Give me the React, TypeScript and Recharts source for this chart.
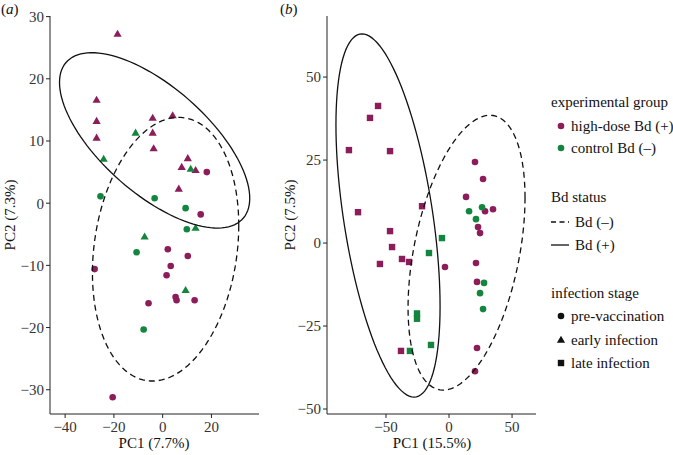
import { ScatterChart, Scatter, XAxis, YAxis } from "recharts";

const FONT = "Liberation Serif, Times New Roman, DejaVu Serif, serif";
const PURPLE = "#8c1d5a";
const GREEN = "#14853f";
const INK = "#222";

// panel (a): pre-vaccination (circles) vs early infection (triangles)
const aHighEarly = [
  { x: -18.5, y: 27.2 }, { x: -27.1, y: 16.6 }, { x: -27.1, y: 13.2 }, { x: -27.1, y: 10.5 },
  { x: -4.1, y: 13.7 }, { x: -4.1, y: 11.3 }, { x: -3.7, y: 8.8 }, { x: 4.1, y: 14.1 },
  { x: 10.3, y: 7.2 }, { x: 7.8, y: 5.8 }, { x: 13.5, y: 5.3 }, { x: 6.6, y: 2.3 },
];
const aControlEarly = [
  { x: -11.1, y: 11.3 }, { x: -24.2, y: 7.1 }, { x: 11.5, y: 5.5 },
  { x: 13.5, y: -4.0 }, { x: -7.4, y: -5.4 }, { x: 9.4, y: -14.0 },
];
const aHighPre = [
  { x: 18.1, y: 5.0 }, { x: 15.6, y: -1.8 }, { x: 2.1, y: -7.4 }, { x: 10.3, y: -8.5 },
  { x: 3.3, y: -10.1 }, { x: 1.6, y: -11.6 }, { x: 5.3, y: -15.1 }, { x: 5.7, y: -15.6 },
  { x: 13.1, y: -15.6 }, { x: -5.8, y: -16.1 }, { x: -27.9, y: -10.6 }, { x: -20.5, y: -31.2 },
];
const aControlPre = [
  { x: -25.5, y: 1.1 }, { x: -3.3, y: 0.8 }, { x: 9.4, y: -0.8 },
  { x: 9.9, y: -4.2 }, { x: -10.7, y: -7.9 }, { x: -7.8, y: -20.3 },
];

// panel (b): pre-vaccination (circles) vs late infection (squares)
const bHighLate = [
  { x: -56.3, y: 41.3 }, { x: -62.7, y: 37.7 }, { x: -79.4, y: 28.0 }, { x: -46.8, y: 27.7 },
  { x: -72.2, y: 9.3 }, { x: -21.4, y: 11.1 }, { x: -46.8, y: 3.6 }, { x: -45.2, y: -1.2 },
  { x: -54.8, y: -6.3 }, { x: -37.3, y: -4.8 }, { x: -31.7, y: -5.7 }, { x: -38.1, y: -32.5 },
];
const bControlLate = [
  { x: -5.6, y: 1.5 }, { x: -15.9, y: -3.0 }, { x: -25.4, y: -21.2 },
  { x: -25.4, y: -22.8 }, { x: -31.0, y: -32.5 }, { x: -14.3, y: -30.7 },
];
const bHighPre = [
  { x: 20.6, y: 24.4 }, { x: 27.0, y: 19.3 }, { x: 13.5, y: 13.9 }, { x: 28.6, y: 9.6 },
  { x: 34.9, y: 10.2 }, { x: 23.0, y: 4.8 }, { x: 24.6, y: 3.0 }, { x: -3.2, y: -7.2 },
  { x: 21.4, y: -6.0 }, { x: 22.2, y: -11.7 }, { x: 22.2, y: -31.6 }, { x: 20.6, y: -38.6 },
];
const bControlPre = [
  { x: 26.2, y: 10.8 }, { x: 15.9, y: 9.6 }, { x: 21.4, y: 7.2 },
  { x: 27.8, y: -12.0 }, { x: 24.6, y: -15.1 }, { x: 27.0, y: -19.9 },
];

// ellipse parameters: centre, half-width, half-height, correlation
const aEllipseNeg = { cx: 1.2, cy: -7.4, a: 30, b: 21.2, rho: 0.18 };
const aEllipsePos = { cx: -3.3, cy: 10.1, a: 39, b: 14.1, rho: -0.66 };
const bEllipseNeg = { cx: 13.9, cy: -2.9, a: 46.4, b: 41.4, rho: 0.4 };
const bEllipsePos = { cx: -48.4, cy: 8.3, a: 41.3, b: 54.7, rho: -0.5 };

const aXTicks = [-40, -20, 0, 20];
const aYTicks = [-30, -20, -10, 0, 10, 20, 30];
const bXTicks = [-50, 0, 50];
const bYTicks = [-50, -25, 0, 25, 50];

function outline(e: { cx: number; cy: number; a: number; b: number; rho: number }) {
  const phi = Math.acos(e.rho);
  const pts = [];
  for (let i = 0; i <= 120; i++) {
    const t = (i / 120) * Math.PI * 2;
    pts.push({ x: e.cx + e.a * Math.cos(t), y: e.cy + e.b * Math.cos(t - phi) });
  }
  return pts;
}

const fmt = (v: number) => String(v).replace("-", "\u2212");

const dot = (color: string) => (p: any) => <circle cx={p.cx} cy={p.cy} r={3.3} fill={color} />;
const tri = (color: string) => (p: any) => (
  <polygon
    points={`${p.cx},${p.cy - 4.3} ${p.cx - 4.1},${p.cy + 2.8} ${p.cx + 4.1},${p.cy + 2.8}`}
    fill={color}
  />
);
const sq = (color: string) => (p: any) => (
  <rect x={p.cx - 3.2} y={p.cy - 3.2} width={6.4} height={6.4} fill={color} />
);
const none = () => <g />;

const tickStyle = { fontFamily: FONT, fontSize: 15, fill: "#333" };

function Panel(props: {
  left: number;
  xDomain: number[];
  yDomain: number[];
  xTicks: number[];
  yTicks: number[];
  children: any;
}) {
  return (
    <div style={{ position: "absolute", left: props.left, top: 0, fontFamily: FONT }}>
      <ScatterChart width={270} height={455} margin={{ top: 16, right: 11, bottom: 11, left: 0 }}>
        <XAxis
          type="number"
          dataKey="x"
          domain={props.xDomain}
          ticks={props.xTicks}
          allowDataOverflow
          height={30}
          tickSize={4}
          tickMargin={3}
          tickFormatter={fmt}
          tick={tickStyle}
          stroke={INK}
        />
        <YAxis
          type="number"
          dataKey="y"
          domain={props.yDomain}
          ticks={props.yTicks}
          allowDataOverflow
          width={50}
          tickSize={4}
          tickMargin={2}
          tickFormatter={fmt}
          tick={tickStyle}
          stroke={INK}
        />
        {props.children}
      </ScatterChart>
    </div>
  );
}

const solid = { stroke: "#111", strokeWidth: 1.3, fill: "none" };
const dashed = { stroke: "#111", strokeWidth: 1.3, strokeDasharray: "6 4", fill: "none" };

export default function App() {
  return (
    <div
      style={{
        position: "absolute",
        left: 0,
        top: 0,
        width: 673,
        height: 455,
        background: "#fff",
        fontFamily: FONT,
      }}
    >
      <Panel left={0} xDomain={[-46.2, 39.5]} yDomain={[-33.9, 30.1]} xTicks={aXTicks} yTicks={aYTicks}>
        <Scatter data={aHighPre} shape={dot(PURPLE)} isAnimationActive={false} />
        <Scatter data={aControlPre} shape={dot(GREEN)} isAnimationActive={false} />
        <Scatter data={aHighEarly} shape={tri(PURPLE)} isAnimationActive={false} />
        <Scatter data={aControlEarly} shape={tri(GREEN)} isAnimationActive={false} />
        <Scatter data={outline(aEllipseNeg)} line={dashed} shape={none} isAnimationActive={false} />
        <Scatter data={outline(aEllipsePos)} line={solid} shape={none} isAnimationActive={false} />
      </Panel>
      <Panel left={277} xDomain={[-96.8, 69]} yDomain={[-51.5, 68.4]} xTicks={bXTicks} yTicks={bYTicks}>
        <Scatter data={bHighPre} shape={dot(PURPLE)} isAnimationActive={false} />
        <Scatter data={bControlPre} shape={dot(GREEN)} isAnimationActive={false} />
        <Scatter data={bHighLate} shape={sq(PURPLE)} isAnimationActive={false} />
        <Scatter data={bControlLate} shape={sq(GREEN)} isAnimationActive={false} />
        <Scatter data={outline(bEllipseNeg)} line={dashed} shape={none} isAnimationActive={false} />
        <Scatter data={outline(bEllipsePos)} line={solid} shape={none} isAnimationActive={false} />
      </Panel>
      <svg
        width={673}
        height={455}
        style={{ position: "absolute", left: 0, top: 0, pointerEvents: "none", fontFamily: FONT, fontSize: 15 }}
        fill="#111"
      >
        <text x={1} y={9} dominantBaseline="central">
          (<tspan fontStyle="italic">a</tspan>)
        </text>
        <text x={280} y={9} dominantBaseline="central">
          (<tspan fontStyle="italic">b</tspan>)
        </text>
        <text x={154} y={443} textAnchor="middle" dominantBaseline="central">PC1 (7.7%)</text>
        <text x={432} y={443} textAnchor="middle" dominantBaseline="central">PC1 (15.5%)</text>
        <text x={10} y={215} textAnchor="middle" dominantBaseline="central" transform="rotate(-90 10 215)">
          PC2 (7.3%)
        </text>
        <text x={290} y={215} textAnchor="middle" dominantBaseline="central" transform="rotate(-90 290 215)">
          PC2 (7.5%)
        </text>

        <text x={551} y={102} dominantBaseline="central">experimental group</text>
        <circle cx={561} cy={126} r={3.3} fill={PURPLE} />
        <text x={571} y={126} dominantBaseline="central">high-dose Bd (+)</text>
        <circle cx={561} cy={148} r={3.3} fill={GREEN} />
        <text x={571} y={148} dominantBaseline="central">control Bd (–)</text>

        <text x={551} y={197} dominantBaseline="central">Bd status</text>
        <line x1={551} x2={569} y1={222} y2={222} stroke="#111" strokeWidth={1.3} strokeDasharray="5 3.5" />
        <text x={575} y={222} dominantBaseline="central">Bd (–)</text>
        <line x1={551} x2={569} y1={245} y2={245} stroke="#111" strokeWidth={1.3} />
        <text x={575} y={245} dominantBaseline="central">Bd (+)</text>

        <text x={551} y={293} dominantBaseline="central">infection stage</text>
        <circle cx={561} cy={316} r={3.3} fill="#111" />
        <text x={571} y={316} dominantBaseline="central">pre-vaccination</text>
        <polygon points="561,335.7 556.9,342.8 565.1,342.8" fill="#111" />
        <text x={571} y={340} dominantBaseline="central">early infection</text>
        <rect x={557.8} y={359.8} width={6.4} height={6.4} fill="#111" />
        <text x={571} y={363} dominantBaseline="central">late infection</text>
      </svg>
    </div>
  );
}
